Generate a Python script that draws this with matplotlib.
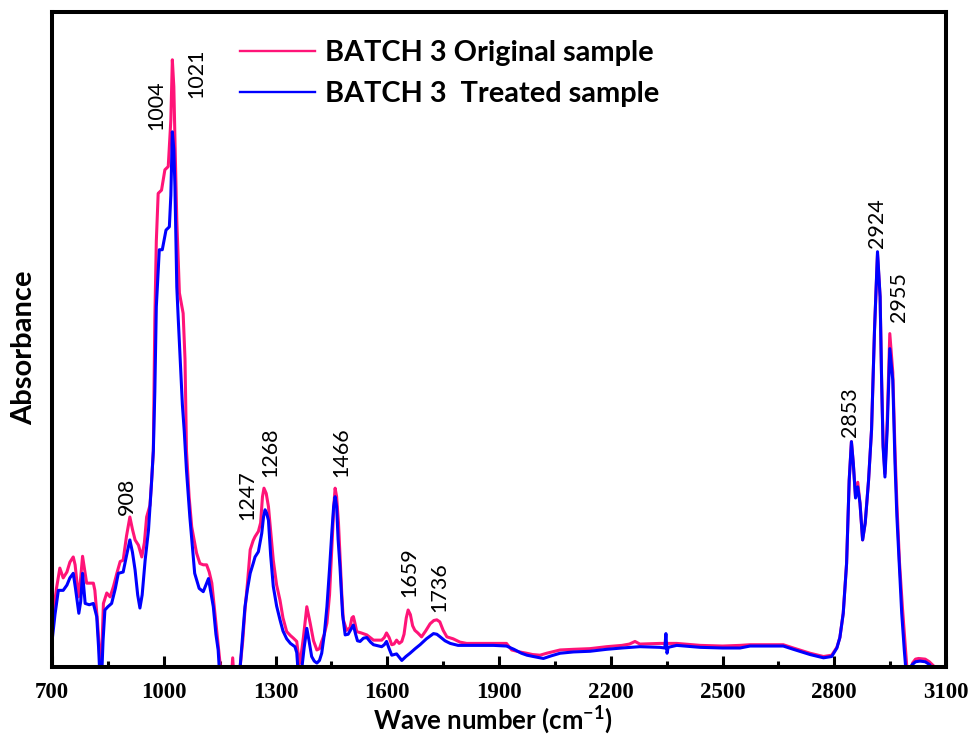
import numpy as np
import matplotlib
matplotlib.use("Agg")
import matplotlib.pyplot as plt

# wave numbers (cm-1) and absorbance (arbitrary units, 0-100 = axis height)
wn_orig = [700, 712, 721, 730, 740, 748, 757, 762, 771, 776, 782, 793, 811, 815, 822, 827, 830, 834, 838,
           847, 856, 865, 875, 883, 891, 900, 909, 916, 923, 932, 941, 948, 954, 963, 968, 972, 976, 980,
           985, 994, 1003, 1012, 1019, 1023, 1027, 1031, 1035, 1042, 1052, 1057, 1061, 1068, 1075, 1088,
           1097, 1106, 1115, 1122, 1129, 1136, 1142, 1151, 1155, 1180, 1185, 1190, 1200, 1205, 1212, 1218,
           1225, 1232, 1240, 1245, 1254, 1260, 1265, 1269, 1275, 1281, 1288, 1294, 1303, 1312, 1320, 1330,
           1340, 1348, 1357, 1361, 1364, 1368, 1375, 1384, 1393, 1402, 1411, 1418, 1424, 1431, 1438, 1445,
           1452, 1457, 1460, 1464, 1469, 1473, 1478, 1482, 1491, 1500, 1505, 1509, 1514, 1518, 1530, 1545,
           1563, 1585, 1592, 1598, 1605, 1612, 1618, 1625, 1632, 1639, 1645, 1651, 1656, 1662, 1668, 1674,
           1682, 1692, 1703, 1715, 1725, 1733, 1741, 1750, 1760, 1777, 1795, 1813, 1850, 1885, 1920, 1934,
           1955, 1974, 1990, 2010, 2028, 2064, 2100, 2144, 2189, 2230, 2250, 2265, 2278, 2332, 2377, 2440,
           2500, 2547, 2574, 2663, 2690, 2735, 2771, 2793, 2807, 2815, 2824, 2833, 2840, 2846, 2851, 2857,
           2863, 2869, 2876, 2883, 2892, 2900, 2908, 2916, 2923, 2927, 2931, 2936, 2942, 2949, 2957, 2963,
           2968, 2975, 2983, 2990, 2996, 3005, 3010, 3018, 3026, 3044, 3055, 3066, 3075]
abs_orig = [6.7, 12, 15.1, 13.6, 14.5, 16, 16.8, 15.6, 10.7, 13, 16.9, 12.8, 12.8, 11.7, 7, 2.6, -1, 3, 9.7,
            11.3, 10.7, 12.3, 14.5, 16.1, 16.3, 20, 22.9, 21, 19.4, 18.6, 16.8, 19, 22.9, 24.7, 29, 33, 53, 65,
            72.3, 72.8, 75.9, 76.4, 83.5, 92.7, 88.6, 78, 68.2, 57.1, 54, 47, 33, 26, 21.4, 17.4,
            15.8, 15.6, 15.6, 14.5, 12.8, 9, 5.6, 0.6, -3, -3, 1.4, -3, -3, 0, 4, 8.7,
            13, 17.9, 19.3, 19.9, 20.7, 22, 26, 27.3, 26.5, 24.5, 20, 16.3, 12.5, 10.2, 7.5, 5.4,
            4.8, 4.4, 3.9, 2, 0.5, 1.5, 4.6, 9.2, 6.7, 4, 2.6, 2.8, 3.9, 5, 6.7, 11,
            19, 25, 27.3, 26, 22, 17, 11, 7.2, 5.6, 6, 7.5, 7.7, 6.5, 5.4, 5.2, 4.9,
            4.1, 4.1, 4.5, 5.2, 4.5, 3.4, 3.5, 4.1, 3.6, 3.9, 5, 7.5, 8.7, 8, 6.3, 5.6,
            5.2, 4.6, 5.5, 6.6, 7.1, 7.2, 6.9, 5.6, 4.6, 4.3, 3.8, 3.6, 3.6, 3.6, 3.6, 2.6,
            2.3, 2.1, 1.9, 1.8, 2.1, 2.6, 2.7, 2.8, 3.1, 3.3, 3.5, 3.9, 3.5, 3.6, 3.6, 3.3,
            3.2, 3.3, 3.4, 3.4, 2.9, 2.1, 1.6, 1.8, 3, 4.5, 8.2, 15.8, 28.5, 34.4, 31.1, 26,
            28.2, 25, 19.4, 22, 28.5, 36.2, 51.5, 63, 56.5, 44, 34, 29.5, 37.5, 50.9, 45, 33,
            25, 16, 9, 3.5, -1, -1, 0.6, 1.2, 1.3, 1.2, 0.8, 0.2, -0.5]

wn_treat = [700, 708, 717, 730, 740, 748, 757, 763, 772, 777, 782, 789, 800, 811, 820, 825, 829, 833, 837,
            842, 850, 860, 870, 878, 891, 900, 909, 916, 923, 930, 936, 942, 950, 959, 967, 972, 976, 980,
            988, 996, 1006, 1015, 1019, 1023, 1027, 1030, 1035, 1039, 1045, 1050, 1055, 1061, 1070, 1083,
            1095, 1106, 1113, 1120, 1126, 1133, 1140, 1146, 1152, 1200, 1205, 1212, 1218, 1225, 1232, 1240,
            1245, 1254, 1263, 1268, 1272, 1276, 1281, 1287, 1294, 1303, 1312, 1320, 1330, 1340, 1352, 1357,
            1361, 1370, 1377, 1384, 1390, 1397, 1404, 1411, 1418, 1424, 1431, 1438, 1445, 1451, 1456, 1460,
            1464, 1468, 1473, 1480, 1487, 1495, 1503, 1509, 1515, 1520, 1527, 1536, 1545, 1555, 1563, 1585,
            1592, 1598, 1605, 1612, 1618, 1625, 1632, 1639, 1650, 1661, 1675, 1688, 1705, 1724, 1733, 1742,
            1755, 1769, 1790, 1813, 1850, 1885, 1920, 1940, 1960, 1975, 1992, 2019, 2040, 2064, 2100, 2144,
            2189, 2230, 2278, 2332, 2345, 2348, 2351, 2354, 2377, 2440, 2500, 2547, 2574, 2663, 2690, 2735,
            2771, 2793, 2807, 2815, 2824, 2833, 2840, 2846, 2851, 2857, 2863, 2869, 2876, 2883, 2892, 2900,
            2908, 2916, 2923, 2927, 2931, 2936, 2942, 2949, 2957, 2963, 2968, 2972, 2981, 2988, 2993, 3003,
            3008, 3018, 3030, 3044, 3055, 3064, 3075]
abs_treat = [3.9, 8, 11.7, 11.7, 12.5, 13.6, 14.3, 12, 8.2, 10, 14.3, 9.7, 9.5, 9.7, 7.7, 3, -2, -2, 4,
             8.7, 9.2, 9.7, 12, 14.3, 14.5, 17, 19.4, 17.5, 14.8, 11, 9, 11, 16.3, 20.9, 28, 33, 42, 55,
             63.7, 63.7, 66.7, 67.2, 72, 81.7, 79, 73.3, 58, 53, 46, 40, 36, 30, 22.9, 14.3,
             12, 11.5, 12.5, 13.5, 11.5, 9.2, 5, 2.6, -3, -3, 0, 5, 9.2, 12, 14.3, 15.8,
             16.8, 17.6, 20.4, 23, 24, 23.5, 22.4, 17, 12.3, 9.3, 7.2, 5.5, 4.3, 3.6, 3.1, 2.2,
             -1, -0.5, 3, 5.9, 4, 1.6, 0.9, 0.6, 1, 2.1, 5, 9.2, 15, 20.4, 24.5, 26,
             24.5, 19.5, 15.3, 8, 4.9, 5, 5.8, 6.4, 5, 4, 3.9, 4.4, 4.5, 3.8, 3.4, 3.1,
             3.4, 3.9, 2.8, 1.8, 1.9, 2.0, 1.5, 1.0, 1.6, 2.1, 2.8, 3.4, 4.3, 5.1, 5, 4.6,
             4, 3.6, 3.3, 3.3, 3.3, 3.3, 3.2, 2.7, 2.1, 1.8, 1.6, 1.3, 1.7, 2.1, 2.3, 2.4,
             2.7, 2.9, 3.1, 3.0, 2.9, 5.1, 2.1, 3.0, 3.3, 3.0, 2.9, 2.9, 3.2, 3.2, 2.7, 1.9,
             1.4, 1.6, 2.9, 4.5, 8.2, 15.8, 28.5, 34.4, 31.1, 25.8, 27.5, 25, 19.4, 22, 28.5, 36.2,
             51.5, 63.4, 56.5, 43.8, 33.6, 29, 36.2, 48.6, 43.8, 31.1, 23, 18.4, 8.2, 2.5, -1, -1,
             0.3, 0.8, 0.9, 0.8, 0.4, -0.3, -0.5]

peak_labels = ["1004", "1021", "908", "1247", "1268", "1466", "1659", "1736", "2853", "2924", "2955"]
peak_x = [981, 1087, 901, 1224, 1286, 1477, 1660, 1739, 2842, 2915, 2975]
peak_y = [82.0, 86.9, 23.2, 22.4, 29.0, 29.0, 10.7, 8.4, 35.1, 64.0, 52.7]

major_ticks = list(range(700, 3101, 300))
minor_ticks = list(range(850, 3100, 300))

plt.rcParams['mathtext.fontset'] = 'custom'
plt.rcParams['mathtext.rm'] = 'Lato:bold'
plt.rcParams['mathtext.it'] = 'Lato:bold'
plt.rcParams['mathtext.bf'] = 'Lato:bold'

fig = plt.figure(figsize=(9.74, 7.48), dpi=100)
ax = fig.add_axes([0.0534, 0.1083, 0.9179, 0.8757])

ax.plot(wn_orig, abs_orig, color='#FF1478', lw=2.2, label='BATCH 3 Original sample')
ax.plot(wn_treat, abs_treat, color='#0000FF', lw=2.2, label='BATCH 3  Treated sample')

for lab, px, py in zip(peak_labels, peak_x, peak_y):
    ax.text(px, py, lab, rotation=90, ha='center', va='bottom', fontsize=15.5, family='Lato')

ax.set_xlim(700, 3100)
ax.set_ylim(0, 100)
ax.set_xticks(major_ticks)
ax.set_xticks(minor_ticks, minor=True)
ax.tick_params(axis='x', which='major', direction='in', length=8, width=2.2, pad=11)
ax.tick_params(axis='x', which='minor', direction='in', length=4.5, width=2.2)
ax.set_yticks([])
for lbl in ax.get_xticklabels():
    lbl.set_fontfamily('Liberation Serif')
    lbl.set_fontweight('bold')
    lbl.set_fontsize(16.5)
for sp in ax.spines.values():
    sp.set_linewidth(2.9)

ax.set_xlabel(r'Wave number (cm$^{-1}$)', fontsize=18.5, fontweight='bold', family='Lato')
ax.xaxis.set_label_coords(0.493, -0.056)
ax.set_ylabel('Absorbance', fontsize=21, fontweight='bold', family='Lato')
ax.yaxis.set_label_coords(-0.017, 0.488)

leg = ax.legend(loc='upper left', bbox_to_anchor=(0.21, 0.957), frameon=False, borderpad=0, borderaxespad=0,
                handlelength=2.6, handletextpad=0.36, labelspacing=0.52,
                prop={'family': 'Lato', 'weight': 'bold', 'size': 20.8})
for ln in leg.get_lines():
    ln.set_linewidth(1.7)

fig.savefig('out.png', dpi=100)
